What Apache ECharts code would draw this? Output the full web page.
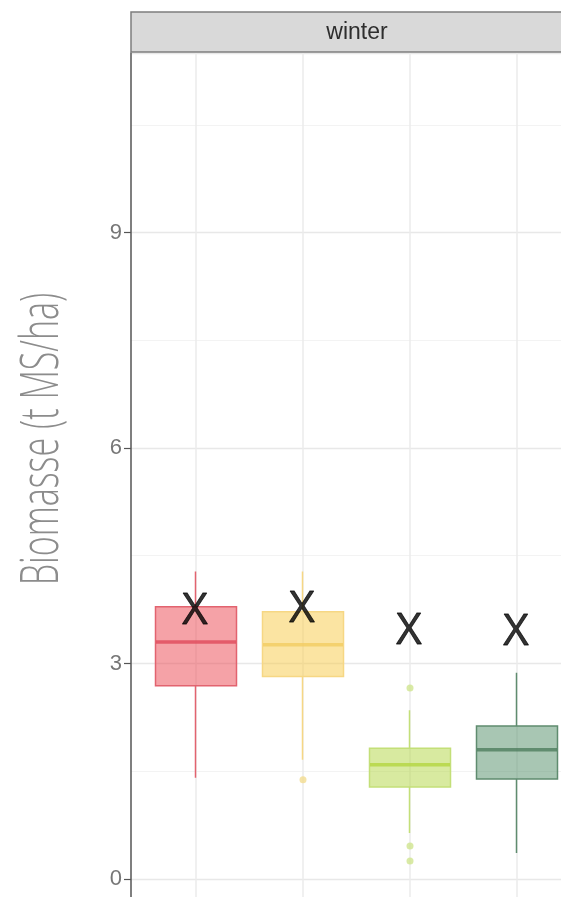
<!DOCTYPE html>
<html>
<head>
<meta charset="utf-8">
<script src="https://cdn.jsdelivr.net/npm/echarts@6/dist/echarts.min.js"></script>
<style>html,body{margin:0;padding:0;background:#fff;}#c{width:561px;height:897px;}</style>
</head>
<body>
<div id="c"></div>
<script>
// ---- data ----
const categories = ['A', 'B', 'C', 'D'];
// [lower whisker, Q1, median, Q3, upper whisker]
const boxValues = [
  [1.41, 2.69, 3.30, 3.79, 4.28],
  [1.66, 2.82, 3.26, 3.72, 4.28],
  [0.64, 1.28, 1.59, 1.82, 2.35],
  [0.36, 1.39, 1.80, 2.13, 2.87]
];
// [category index, value]
const outlierPoints = [[1, 1.38], [2, 2.66], [2, 0.46], [2, 0.25]];
const markerText = ['X', 'X', 'X', 'X'];
const markerValues = [3.73, 3.75, 3.45, 3.43];
const yTickLabels = [0, 3, 6, 9];
const facetLabel = 'winter';
const yTitle = 'Biomasse (t MS/ha)';

// ---- styles ----
const fills = ['rgba(235,69,79,0.5)', 'rgba(247,201,69,0.5)', 'rgba(177,213,65,0.5)', 'rgba(81,141,103,0.5)'];
const borders = ['#e2636f', '#f6d784', '#c3df78', '#5f8c6f'];
const medians = ['#e04a5b', '#f3cc62', '#b4d640', '#4e7d5e'];
const outlierColors = ['#e88a92', '#f3dc90', '#cfe58e', '#9bbba7'];

const chart = echarts.init(document.getElementById('c'), null, {renderer: 'canvas'});

const option = {
  backgroundColor: '#ffffff',
  animation: false,
  grid: [
    {left: 131, width: 452, top: 53, height: 1041.4, outerBoundsMode: 'none', containLabel: false},
    {left: 196, width: 321, top: 53, height: 1041.4, outerBoundsMode: 'none', containLabel: false}
  ],
  xAxis: [
    {type: 'value', gridIndex: 0, min: 0, max: 1, show: false, splitLine: {show: false}},
    {type: 'category', gridIndex: 1, data: categories, boundaryGap: false,
      axisLine: {show: false}, axisTick: {show: false}, axisLabel: {show: false},
      splitLine: {show: true, lineStyle: {color: '#ebebeb', width: 1.5}}}
  ],
  yAxis: [
    {type: 'value', gridIndex: 0, min: -3, max: 11.5, interval: 3,
      axisLine: {show: true, lineStyle: {color: '#555555', width: 1.5}},
      axisTick: {show: true, length: 7, lineStyle: {color: '#555555', width: 1.2}},
      axisLabel: {show: true, margin: 9, fontSize: 22, color: '#777777', fontFamily: 'Liberation Sans',
        showMaxLabel: false,
        formatter: function (v) { return yTickLabels.indexOf(v) >= 0 ? String(v) : ''; }},
      splitLine: {show: true, lineStyle: {color: '#e8e8e8', width: 1.3}},
      minorTick: {show: false, splitNumber: 2},
      minorSplitLine: {show: true, lineStyle: {color: '#f3f3f3', width: 1}}
    },
    {type: 'value', gridIndex: 1, min: -3, max: 11.5, show: false, splitLine: {show: false}}
  ],
  graphic: [
    {type: 'rect', z: 100, shape: {x: 131, y: 12, width: 452, height: 40},
      style: {fill: '#d9d9d9', stroke: '#7d7d7d', lineWidth: 1.5}},
    {type: 'text', z: 101, x: 357, y: 33,
      style: {text: facetLabel, fontSize: 23, fontFamily: 'Liberation Sans', fill: '#2e2e2e',
        textAlign: 'center', textVerticalAlign: 'middle', align: 'center', verticalAlign: 'middle'}},
    {type: 'text', z: 101, x: 43, y: 439, rotation: Math.PI / 2, scaleX: 0.63,
      style: {text: yTitle, fontSize: 54, fontFamily: 'Open Sans', fontWeight: 300, fill: '#8c8c8c',
        textAlign: 'center', textVerticalAlign: 'middle', align: 'center', verticalAlign: 'middle'}}
  ],
  series: [
    // boxes + whiskers (candlestick: [open=Q1, close=Q3, low, high])
    {type: 'candlestick', xAxisIndex: 1, yAxisIndex: 1, barWidth: 82, z: 3,
      emphasis: {disabled: true},
      data: boxValues.map(function (v, i) {
        return {value: [v[1], v[3], v[0], v[4]],
          itemStyle: {color: fills[i], color0: fills[i], borderColor: borders[i], borderColor0: borders[i], borderWidth: 1.5}};
      })
    },
    // medians
    {type: 'scatter', xAxisIndex: 1, yAxisIndex: 1, symbol: 'rect', symbolSize: [80, 3.5], z: 4,
      emphasis: {disabled: true},
      data: boxValues.map(function (v, i) {
        return {value: [i, v[2]], itemStyle: {color: medians[i]}};
      })
    },
    // outliers
    {type: 'scatter', xAxisIndex: 1, yAxisIndex: 1, symbol: 'circle', symbolSize: 7, z: 4,
      emphasis: {disabled: true},
      data: outlierPoints.map(function (p) {
        return {value: p, itemStyle: {color: outlierColors[p[0]]}};
      })
    },
    // X annotations
    {type: 'scatter', xAxisIndex: 1, yAxisIndex: 1, symbolSize: 1, z: 10,
      itemStyle: {color: 'rgba(0,0,0,0)'},
      emphasis: {disabled: true},
      label: {show: true, position: 'inside', offset: [-1, 0], fontSize: 44, fontFamily: 'Open Sans',
        color: '#000000', textBorderColor: '#000000', textBorderWidth: 0.8,
        formatter: function (p) { return markerText[p.dataIndex]; }},
      data: markerValues.map(function (v, i) { return [i, v]; })
    }
  ]
};
chart.setOption(option);
</script>
</body>
</html>
